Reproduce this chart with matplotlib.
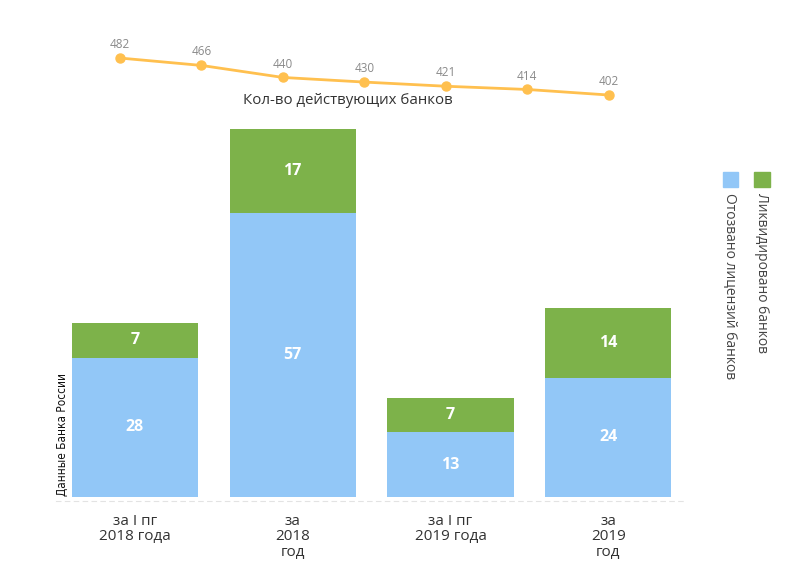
import matplotlib
matplotlib.use('Agg')
import matplotlib.pyplot as plt

plt.rcParams['font.family'] = ['Open Sans', 'DejaVu Sans']

# bar data
periods = ['за I пг\n2018 года', 'за\n2018\nгод', 'за I пг\n2019 года', 'за\n2019\nгод']
revoked = [28, 57, 13, 24]
liquidated = [7, 17, 7, 14]

# line data: number of active banks
active = [482, 466, 440, 430, 421, 414, 402]

blue = '#92c7f7'
green = '#7db24a'
orange = '#ffc04f'

fig = plt.figure(figsize=(8, 5.69), dpi=100)

# stacked bars
ax = fig.add_axes([0.07, 0.1195, 0.789, 0.654])
x = list(range(len(periods)))
ax.bar(x, revoked, width=0.8, color=blue, zorder=2)
ax.bar(x, liquidated, width=0.8, bottom=revoked, color=green, zorder=2)
for i in x:
    ax.text(i, revoked[i] / 2, str(revoked[i]), ha='center', va='center',
            color='white', fontsize=11.5, fontweight='bold')
    ax.text(i, revoked[i] + liquidated[i] / 2, str(liquidated[i]), ha='center',
            va='center', color='white', fontsize=11.5, fontweight='bold')
ax.set_xlim(-0.5, 3.5)
ax.set_ylim(-0.8, 74)
ax.set_xticks(x)
ax.set_xticklabels(periods, fontsize=11, color='#333333', linespacing=1.05)
ax.tick_params(axis='x', length=0, pad=9)
ax.set_yticks([])
for s in ['top', 'right', 'left']:
    ax.spines[s].set_visible(False)
ax.spines['bottom'].set_color('#e3e3e3')
ax.spines['bottom'].set_linestyle((0, (4, 4)))

ax.text(-0.46, 0.3, 'Данные Банка России', rotation=90, ha='center', va='bottom',
        fontsize=8.5, color='#111111', family='DejaVu Sans', stretch='condensed')

# line of active banks
lax = fig.add_axes([0.15, 0.833, 0.611, 0.065])
lax.plot(range(len(active)), active, color=orange, lw=2, marker='o',
         markersize=6.5, clip_on=False)
for i, v in enumerate(active):
    lax.annotate(str(v), (i, v), xytext=(0, 5), textcoords='offset points',
                 ha='center', va='bottom', fontsize=8.5, color='#8a8a8a')
lax.set_xlim(0, 6)
lax.set_ylim(402, 482)
lax.axis('off')
fig.text(0.435, 0.824, 'Кол-во действующих банков', ha='center', va='center',
         fontsize=10.8, color='#333333')

# legend
fig.patches.append(plt.Rectangle((0.943, 0.671), 0.019, 0.027, color=green,
                                 transform=fig.transFigure, figure=fig))
fig.patches.append(plt.Rectangle((0.904, 0.671), 0.019, 0.027, color=blue,
                                 transform=fig.transFigure, figure=fig))
fig.text(0.9525, 0.66, 'Ликвидировано банков', rotation=-90, ha='center',
         va='top', fontsize=10, color='#444444')
fig.text(0.9135, 0.66, 'Отозвано лицензий банков', rotation=-90, ha='center',
         va='top', fontsize=10, color='#444444')

fig.savefig('out.png', dpi=100, facecolor='white')
